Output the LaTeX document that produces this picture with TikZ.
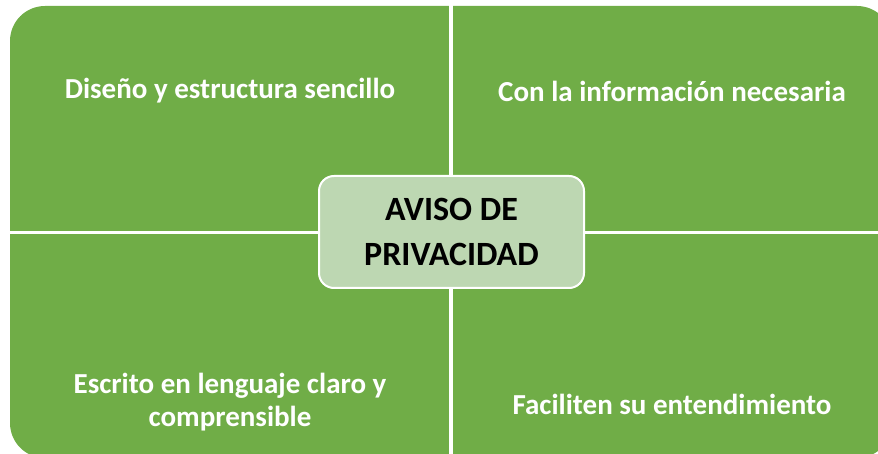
\documentclass[tikz,border=0pt]{standalone}
\usepackage{fontspec}
\setmainfont{Carlito}
\definecolor{quadgreen}{RGB}{112,173,71}
\definecolor{centergreen}{RGB}{189,215,178}
\begin{document}
\begin{tikzpicture}[x=1pt,y=-1pt,
  quadtext/.style={text=white,font=\bfseries\fontsize{29}{33}\selectfont,align=center},
  centerbox/.style={draw=white,line width=2pt,fill=centergreen,rounded corners=15pt,
    minimum width=265pt,minimum height=112pt,align=center,
    font=\bfseries\fontsize{34}{45}\selectfont,text=black},
  gap/.style={white,line width=3.5pt}]
\useasboundingbox (0,0) rectangle (878,454);
\begin{scope}
\clip (0,0) rectangle (878,454);
\fill[quadgreen,rounded corners=35pt] (10,6) rectangle (892,458);
\coordinate (vtop) at (451,0);
\coordinate (vbot) at (451,454);
\coordinate (hleft) at (0,232.5);
\coordinate (hright) at (878,232.5);
\draw[gap] (vtop) -- (vbot);
\draw[gap] (hleft) -- (hright);
\end{scope}
\node[centerbox] (center) at (451.5,232) {AVISO DE\\PRIVACIDAD};
\node[quadtext] (q1) at (230,91) {Diseño y estructura sencillo};
\node[quadtext] (q2) at (672,91) {Con la información necesaria};
\node[quadtext] (q3) at (230,402) {Escrito en lenguaje claro y\\comprensible};
\node[quadtext] (q4) at (672,404) {Faciliten su entendimiento};
\end{tikzpicture}
\end{document}
